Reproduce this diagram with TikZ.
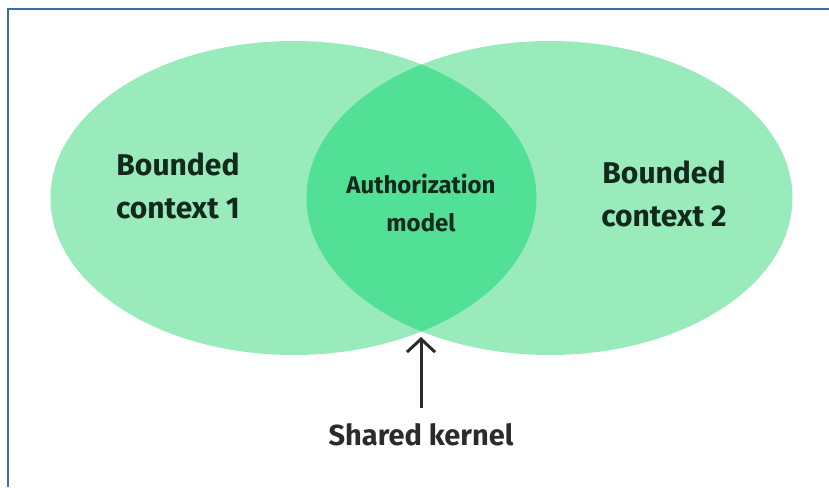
\documentclass[tikz,border=0pt]{standalone}
\usepackage{fontspec}
\setmainfont{Fira Sans}
\usetikzlibrary{arrows.meta}
\definecolor{ctxgreen}{HTML}{99EBBC}
\definecolor{kernelgreen}{HTML}{52E096}
\definecolor{labeldark}{HTML}{13291C}
\definecolor{kernelgrey}{HTML}{2B2B2B}
\definecolor{frameblue}{HTML}{3C6EA6}
\begin{document}
\begin{tikzpicture}[x=1pt,y=-1pt,
  ctxlabel/.style={align=center,text=labeldark,font=\fontsize{30}{43}\selectfont\bfseries},
  kernellabel/.style={align=center,text=labeldark,font=\fontsize{24}{38}\selectfont\bfseries}]

\useasboundingbox (0,0) rectangle (829,487);

\coordinate (c1) at (293.5,198);
\coordinate (c2) at (549.5,198);
\coordinate (tip) at (421,337);
\coordinate (frametl) at (7.5,9.5);

\draw[frameblue,line width=2pt] (829,9.5) -- (frametl) -- (7.5,487);

\fill[ctxgreen] (c1) ellipse [x radius=243pt, y radius=157pt];
\fill[ctxgreen] (c2) ellipse [x radius=243pt, y radius=157pt];
\begin{scope}
\clip (c1) ellipse [x radius=243pt, y radius=157pt];
\fill[kernelgreen] (c2) ellipse [x radius=243pt, y radius=157pt];
\end{scope}

\node[ctxlabel] (bc1) at (178,186) {Bounded\\context 1};
\node[ctxlabel] (bc2) at (664,194) {Bounded\\context 2};
\node[kernellabel] (authz) at (421,203) {Authorization\\model};
\node[text=kernelgrey,font=\fontsize{29}{36}\selectfont\bfseries] (kernel) at (421,435) {Shared kernel};

\draw[kernelgrey,line width=3pt,shorten <=12pt,-{Straight Barb[length=13pt,width=28pt]}] (kernel.north) -- (tip);
\end{tikzpicture}
\end{document}
